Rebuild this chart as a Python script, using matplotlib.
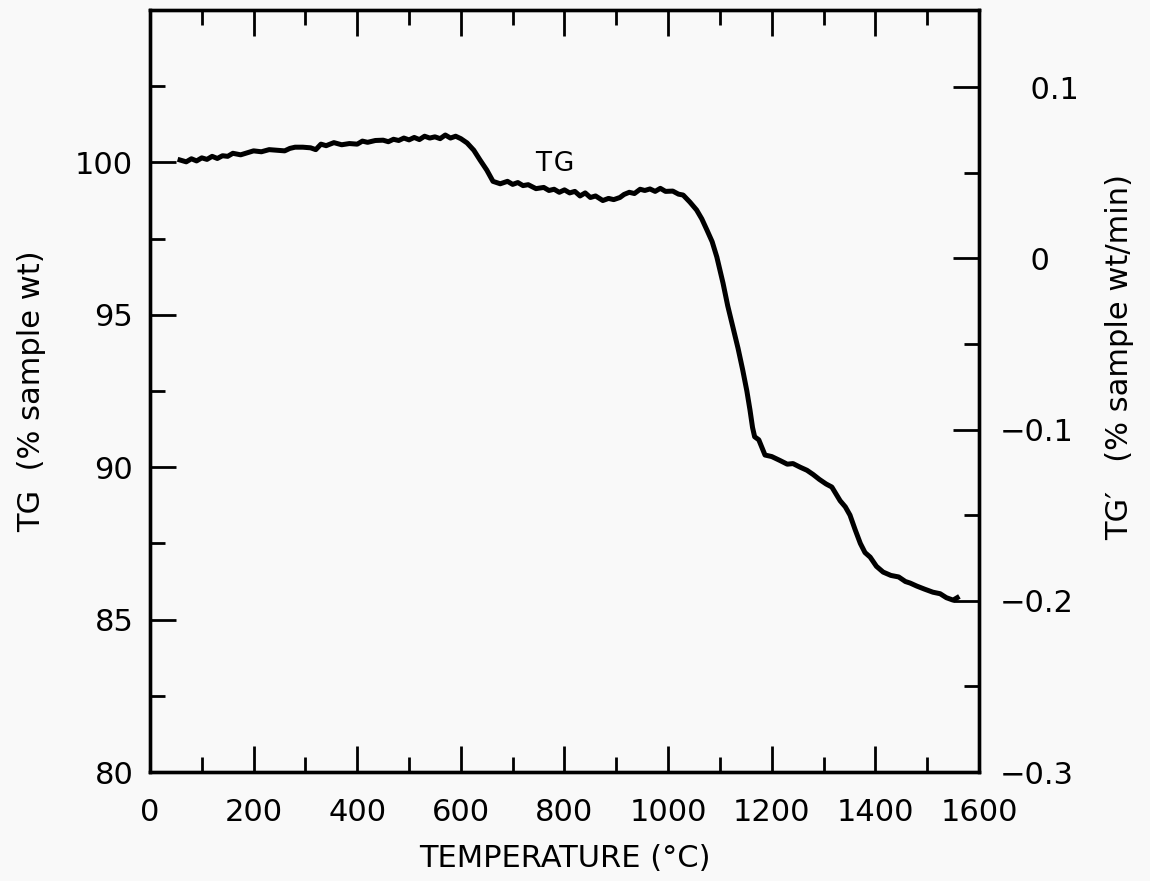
import numpy as np
import matplotlib.pyplot as plt
from matplotlib.ticker import MultipleLocator, FixedLocator

# TG curve (temperature in C, TG in % sample wt)
temp = [58, 70, 80, 90, 100, 110, 120, 130, 140, 150, 160, 175, 190, 200, 215,
        230, 245, 260, 270, 280, 295, 310, 320, 330, 340, 355, 370, 385, 400,
        410, 420, 435, 450, 460, 470, 480, 490, 500, 510, 520, 530, 540, 550,
        560, 570, 580, 590, 600, 612, 625, 637, 650, 662, 676, 690, 700, 710,
        720, 730, 745, 760, 770, 780, 790, 800, 810, 820, 830, 840, 850, 860,
        874, 885, 895, 907, 915, 925, 935, 946, 955, 965, 975, 985, 995, 1009,
        1020, 1029, 1042, 1055, 1065, 1075, 1085, 1094, 1106, 1115, 1125, 1135,
        1144, 1152, 1158, 1163, 1167, 1175, 1187, 1200, 1216, 1230, 1241, 1255,
        1268, 1280, 1292, 1305, 1316, 1325, 1332, 1342, 1351, 1361, 1371, 1380,
        1390, 1402, 1415, 1430, 1445, 1458, 1467, 1480, 1495, 1511, 1525, 1537,
        1550, 1558]
tg = [100.08, 100.02, 100.12, 100.05, 100.15, 100.1, 100.2, 100.13, 100.22,
      100.2, 100.3, 100.25, 100.33, 100.38, 100.35, 100.42, 100.4, 100.38,
      100.46, 100.5, 100.5, 100.48, 100.42, 100.6, 100.55, 100.65, 100.58,
      100.62, 100.6, 100.7, 100.66, 100.72, 100.73, 100.68, 100.76, 100.72,
      100.8, 100.74, 100.82, 100.75, 100.86, 100.8, 100.84, 100.78, 100.9,
      100.8, 100.86, 100.78, 100.64, 100.4, 100.08, 99.75, 99.38, 99.3, 99.38,
      99.28, 99.34, 99.24, 99.27, 99.14, 99.18, 99.08, 99.12, 99.02, 99.1,
      99.0, 99.05, 98.9, 99.0, 98.85, 98.9, 98.75, 98.82, 98.78, 98.85, 98.95,
      99.02, 98.98, 99.12, 99.08, 99.13, 99.05, 99.15, 99.05, 99.06, 98.96,
      98.93, 98.7, 98.44, 98.15, 97.78, 97.4, 96.9, 96.04, 95.3, 94.6, 93.9,
      93.19, 92.5, 91.88, 91.3, 91.0, 90.9, 90.4, 90.35, 90.22, 90.1, 90.12,
      90.0, 89.9, 89.76, 89.6, 89.45, 89.35, 89.1, 88.9, 88.7, 88.43, 87.95,
      87.5, 87.2, 87.05, 86.75, 86.56, 86.45, 86.4, 86.25, 86.2, 86.1, 86.0,
      85.9, 85.85, 85.72, 85.64, 85.72]

left_ticks = [80, 85, 90, 95, 100]
right_ticks = [-0.3, -0.2, -0.1, 0, 0.1]
right_labels = ['\u22120.3', '\u22120.2', '\u22120.1', '\u20030', '\u20030.1']

bg = '#f9f9f9'
fs = 22
plt.rcParams['font.family'] = ['DejaVu Sans']

fig = plt.figure(figsize=(11.5, 8.81), dpi=100, facecolor=bg)
ax = fig.add_axes([0.1304, 0.1237, 0.7209, 0.8649])
ax.set_facecolor(bg)
ax.plot(temp, tg, color='black', lw=3.6)
ax.text(782, 99.95, 'T\u200aG', fontsize=19, ha='center', va='center')

ax.set_xlim(0, 1600)
ax.set_ylim(80, 105)
ax.xaxis.set_major_locator(MultipleLocator(200))
ax.xaxis.set_minor_locator(MultipleLocator(100))
ax.yaxis.set_major_locator(FixedLocator(left_ticks))
ax.yaxis.set_minor_locator(MultipleLocator(2.5))
ax.tick_params(which='both', direction='in', top=True, right=False,
               width=2, labelsize=fs)
ax.tick_params(which='major', length=19)
ax.tick_params(which='minor', length=11)
ax.tick_params(axis='x', which='major', pad=19)
ax.tick_params(axis='y', which='major', pad=12)
for s in ax.spines.values():
    s.set_linewidth(2.4)

ax.set_xlabel('TEMPERATURE (\u00b0C)', fontsize=fs, labelpad=12)
ax.set_ylabel('TG  (% sample wt)', fontsize=fs)
ax.yaxis.set_label_coords(-0.125, 0.50)

ax2 = ax.twinx()
ax2.set_ylim(-0.3, 0.145)
ax2.yaxis.set_major_locator(FixedLocator(right_ticks))
ax2.set_yticklabels(right_labels)
ax2.yaxis.set_minor_locator(MultipleLocator(0.05))
ax2.tick_params(which='both', direction='in', width=2, labelsize=fs)
ax2.tick_params(which='major', length=19, pad=15)
ax2.tick_params(which='minor', length=11)
for s in ax2.spines.values():
    s.set_linewidth(2.4)
ax2.set_ylabel('TG\u2032   (% sample wt/min)', fontsize=fs)
ax2.yaxis.set_label_coords(1.152, 0.545)

fig.savefig('out.png', dpi=100, facecolor=bg)
